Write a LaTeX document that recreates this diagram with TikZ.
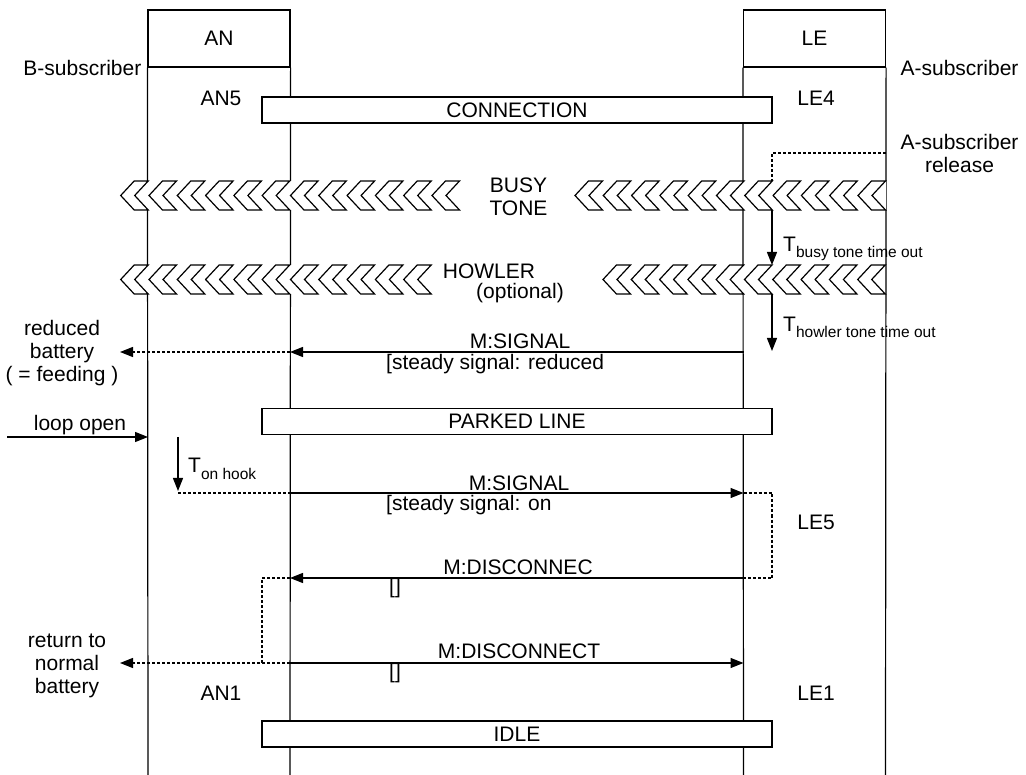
\documentclass[tikz,border=0pt]{standalone}
\usepackage{fontspec}
\setmainfont{Liberation Sans}
\usetikzlibrary{arrows.meta,calc}
\newcommand\chevband[4]{% #1 first tip x, #2 last index, #3 top y, #4 bottom y
  \fill[white] (#1,#3) rectangle (#1+28.3*#2+27.5,#4);
  \foreach \i in {0,...,#2}{%
    \pgfmathsetmacro\tx{#1+28.3*\i}%
    \draw[chev] (\tx,{(#3+#4)/2}) -- (\tx+13.5,#3) -- (\tx+27.5,#3) -- (\tx+14,{(#3+#4)/2})
      -- (\tx+27.5,#4) -- (\tx+13.5,#4) -- cycle;}%
}
\newcommand\subtxt[2]{#1\raisebox{-6pt}{\fontsize{15.5}{18}\selectfont #2}}
\begin{document}
\begin{tikzpicture}[x=1pt,y=-1pt,
  every node/.style={font=\fontsize{21}{23}\selectfont, inner sep=0pt},
  life/.style={line width=1.2pt},
  chev/.style={line width=1.2pt, line join=miter},
  headbox/.style={draw, line width=1.2pt, minimum width=142pt, minimum height=57pt, fill=white},
  statebox/.style={draw, line width=1.2pt, minimum width=510pt, minimum height=26pt, fill=white},
  msg/.style={line width=1.2pt, -{Triangle[length=13pt,width=10pt]}},
  dmsg/.style={line width=1.2pt, dash pattern=on 3pt off 2pt, -{Triangle[length=13pt,width=10pt]}},
  dline/.style={line width=1.2pt, dash pattern=on 3pt off 2pt},
  lbl/.style={anchor=west}]
\useasboundingbox (0,0) rectangle (1026,775);

% lifelines
\node[headbox] (ANh) at (219,38.5) {AN};
\node[headbox] (LEh) at (814.5,38.5) {LE};
\coordinate (ANlb) at (148,775);
\coordinate (ANrb) at (290,775);
\coordinate (LElb) at (743.5,775);
\coordinate (LErb) at (885.5,775);
\draw[life] (ANh.south west) -- (ANlb);
\draw[life] (ANh.south east) -- (ANrb);
\draw[life] (LEh.south west) -- (LElb);
\draw[life] (LEh.south east) -- (LErb);

% side labels
\node[anchor=east] (Bsub) at (141.5,68) {B-subscriber};
\node (Asub) at (959.5,68) {A-subscriber};
\node (AN5) at (221,98) {AN5};
\node (LE4) at (816,98) {LE4};
\node (LE5) at (816,522) {LE5};
\node (AN1) at (221,693) {AN1};
\node (LE1) at (816,693) {LE1};
\node[align=center] (Arel) at (959.5,153.5) {A-subscriber\\release};

% state boxes
\node[statebox] (conn) at (517,110) {CONNECTION};
\node[statebox] (park) at (517,421.5) {PARKED LINE};
\node[statebox] (idle) at (517,734) {IDLE};

% release (dashed) to busy tone band
\coordinate (rel0) at (885.5,153);
\coordinate (rel1) at (772,153);
\coordinate (bt1) at (772,181);
\draw[dline] (rel0) -- (rel1) -- (bt1);

% bands
\chevband{120.7}{11}{181}{210}
\chevband{575}{10}{181}{210}
\chevband{120.7}{10}{265}{294}
\chevband{603}{9}{265}{294}
\node[align=center] (busy) at (518.5,196.5) {BUSY\\TONE};
\node (howl) at (489,271) {HOWLER};
\node (opt) at (520,293) {(optional)};

% timers
\coordinate (bb1) at (772,210);
\coordinate (bt2) at (772,265);
\draw[msg] (bb1) -- (bt2);
\node[anchor=base west] (tbusy) at (783,252) {\subtxt{T}{busy tone time out}};
\coordinate (bb2) at (772,294);
\coordinate (t2e) at (772,351);
\draw[msg] (bb2) -- (t2e);
\node[anchor=base west] (thowl) at (783,332) {\subtxt{T}{howler tone time out}};

% M:SIGNAL reduced
\coordinate (s1) at (743.5,352);
\coordinate (a1) at (290,352);
\coordinate (b1) at (120,352);
\draw[msg] (s1) -- (a1);
\draw[dmsg] (a1) -- (b1);
\node (ms1) at (520,341) {M:SIGNAL};
\node[lbl] (ms1b) at (386,364) {[steady signal: reduced};
\node[align=center] (redb) at (62,353) {reduced\\battery\\( = feeding )};

% loop open
\coordinate (lo0) at (7,437);
\coordinate (lo1) at (148,437);
\draw[msg] (lo0) -- (lo1);
\node (loop) at (80,425) {loop open};

% T on hook
\coordinate (th0) at (178,437);
\coordinate (th1) at (178,491);
\draw[msg] (th0) -- (th1);
\node[anchor=base west] (thook) at (188,473) {\subtxt{T}{on hook}};

% M:SIGNAL on
\coordinate (s2a) at (178,493);
\coordinate (s2b) at (290,493);
\coordinate (s2c) at (743.5,493);
\coordinate (s2d) at (772,493);
\draw[dline] (s2a) -- (s2b);
\draw[msg] (s2b) -- (s2c);
\node (ms2) at (519,483) {M:SIGNAL};
\node[lbl] (ms2b) at (386,505) {[steady signal: on};

% M:DISCONNEC
\coordinate (d1a) at (772,578);
\coordinate (d1b) at (743.5,578);
\coordinate (d1c) at (290,578);
\coordinate (d1d) at (262,578);
\draw[dline] (s2c) -- (s2d) -- (d1a) -- (d1b);
\draw[msg] (d1b) -- (d1c);
\node (md1) at (518,567) {M:DISCONNEC};
\node[lbl] (md1b) at (389,588) {[]};

% M:DISCONNECT
\coordinate (d2a) at (262,663);
\coordinate (d2b) at (290,663);
\coordinate (d2c) at (743.5,663);
\coordinate (d2d) at (120,663);
\draw[dline] (d1c) -- (d1d) -- (d2a);
\draw[dmsg] (d2b) -- (d2d);
\draw[msg] (d2b) -- (d2c);
\node (md2) at (519,651) {M:DISCONNECT};
\node[lbl] (md2b) at (389,673) {[]};
\node[align=center] (retb) at (67,666) {return to\\normal\\battery};
\end{tikzpicture}
\end{document}
